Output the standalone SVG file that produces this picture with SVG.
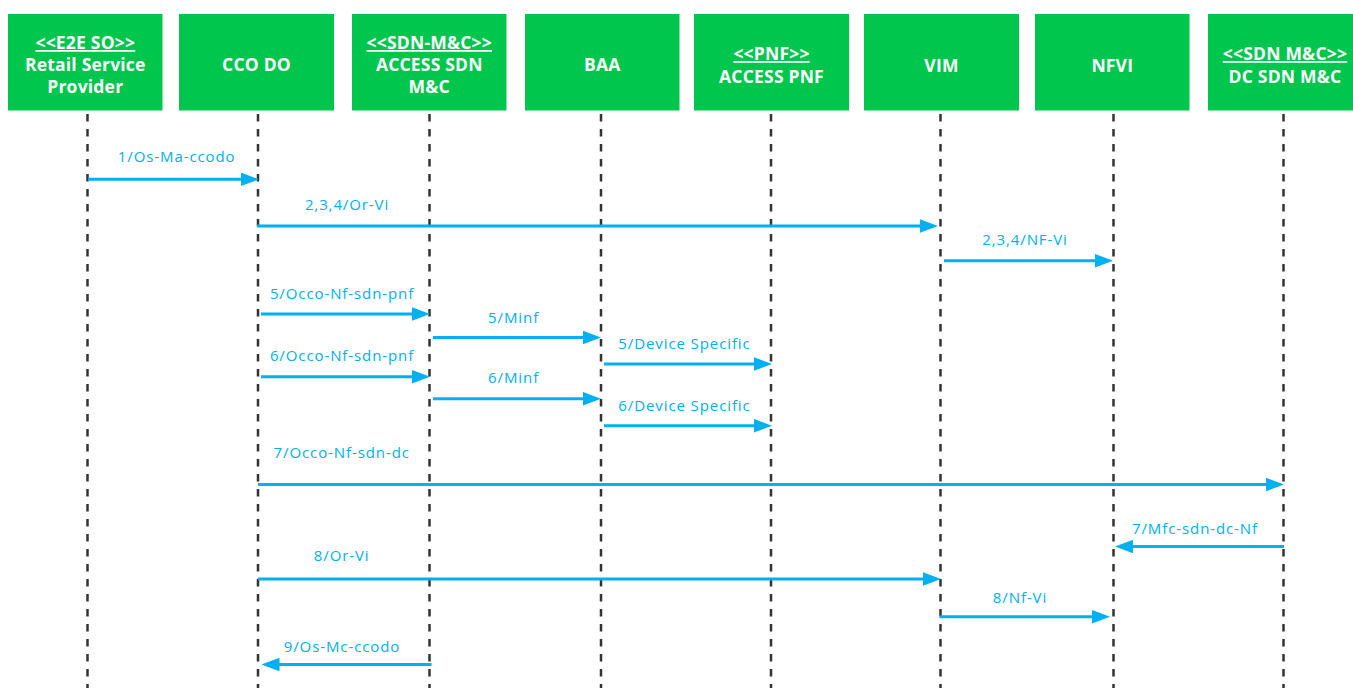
<svg xmlns="http://www.w3.org/2000/svg" width="1353" height="688" viewBox="0 0 1353 688">
<style>
.box{fill:#00C64D}
.ht{font-family:"Open Sans","Liberation Sans",sans-serif;font-weight:700;font-size:17.5px;fill:#fff;text-anchor:middle;letter-spacing:0.2px}
.st{text-decoration:underline}
.life{stroke:#333;stroke-width:2.5;stroke-dasharray:7.5 7.5;fill:none}
.msg{stroke:#00B0F0;stroke-width:3;fill:none;marker-end:url(#ah)}
.lbl{font-family:"Open Sans","Liberation Sans",sans-serif;font-size:15px;font-weight:500;fill:#00B0F0;text-anchor:middle;letter-spacing:0.9px}
</style>
<defs>
<marker id="ah" markerUnits="userSpaceOnUse" markerWidth="18" markerHeight="14" refX="8" refY="6.75" orient="auto">
<path d="M0,0 L18,6.75 L0,13.5 Z" fill="#00B0F0"/>
</marker>
</defs>
<rect width="1353" height="688" fill="#fff"/>
<g id="lifelines">
<line class="life" x1="87.5" y1="114" x2="87.5" y2="688"/>
<line class="life" x1="258" y1="114" x2="258" y2="688"/>
<line class="life" x1="429.5" y1="114" x2="429.5" y2="688"/>
<line class="life" x1="601" y1="114" x2="601" y2="688"/>
<line class="life" x1="771" y1="114" x2="771" y2="688"/>
<line class="life" x1="940.5" y1="114" x2="940.5" y2="688"/>
<line class="life" x1="1113.5" y1="114" x2="1113.5" y2="688"/>
<line class="life" x1="1283.5" y1="114" x2="1283.5" y2="688"/>
</g>
<g id="node-rsp">
<rect class="box" x="8" y="14" width="154.5" height="96.5"/>
<text class="ht" x="85.3" y="49"><tspan class="st">&lt;&lt;E2E SO&gt;&gt;</tspan></text>
<text class="ht" x="85.3" y="71">Retail Service</text>
<text class="ht" x="85.3" y="93.3">Provider</text>
</g>
<g id="node-ccodo">
<rect class="box" x="179" y="14" width="155" height="96.5"/>
<text class="ht" x="256.5" y="71">CCO DO</text>
</g>
<g id="node-accesssdn">
<rect class="box" x="352" y="14" width="154.5" height="96.5"/>
<text class="ht" x="429.3" y="49"><tspan class="st">&lt;&lt;SDN-M&amp;C&gt;&gt;</tspan></text>
<text class="ht" x="429.3" y="71">ACCESS SDN</text>
<text class="ht" x="429.3" y="93.3">M&amp;C</text>
</g>
<g id="node-baa">
<rect class="box" x="525" y="14" width="154.5" height="96.5"/>
<text class="ht" x="602.3" y="71">BAA</text>
</g>
<g id="node-accesspnf">
<rect class="box" x="694" y="14" width="155" height="96.5"/>
<text class="ht" x="771.5" y="60"><tspan class="st">&lt;&lt;PNF&gt;&gt;</tspan></text>
<text class="ht" x="771.5" y="82.5">ACCESS PNF</text>
</g>
<g id="node-vim">
<rect class="box" x="864" y="14" width="155" height="96.5"/>
<text class="ht" x="941.5" y="71.5">VIM</text>
</g>
<g id="node-nfvi">
<rect class="box" x="1035" y="14" width="154.5" height="96.5"/>
<text class="ht" x="1112.3" y="71.5">NFVI</text>
</g>
<g id="node-dcsdn">
<rect class="box" x="1208" y="14" width="154.5" height="96.5"/>
<text class="ht" x="1285" y="60"><tspan class="st">&lt;&lt;SDN M&amp;C&gt;&gt;</tspan></text>
<text class="ht" x="1285" y="82.5">DC SDN M&amp;C</text>
</g>
<g id="connectors">
<line class="msg" x1="88" y1="179.3" x2="249" y2="179.3"/>
<line class="msg" x1="257" y1="226" x2="928" y2="226"/>
<line class="msg" x1="944" y1="260.7" x2="1103" y2="260.7"/>
<line class="msg" x1="261" y1="314" x2="420" y2="314"/>
<line class="msg" x1="433" y1="337.5" x2="591" y2="337.5"/>
<line class="msg" x1="604" y1="364" x2="762" y2="364"/>
<line class="msg" x1="261" y1="376.7" x2="420" y2="376.7"/>
<line class="msg" x1="433" y1="398.7" x2="591" y2="398.7"/>
<line class="msg" x1="604" y1="425.7" x2="762" y2="425.7"/>
<line class="msg" x1="258" y1="484.5" x2="1274" y2="484.5"/>
<line class="msg" x1="1284" y1="546.5" x2="1125" y2="546.5"/>
<line class="msg" x1="258" y1="579" x2="931" y2="579"/>
<line class="msg" x1="939.5" y1="616.7" x2="1100" y2="616.7"/>
<line class="msg" x1="431.5" y1="664.5" x2="271.5" y2="664.5"/>
<text class="lbl" x="176.7" y="162.3">1/Os-Ma-ccodo</text>
<text class="lbl" x="347" y="210">2,3,4/Or-Vi</text>
<text class="lbl" x="1025" y="245">2,3,4/NF-Vi</text>
<text class="lbl" x="342" y="298.5">5/Occo-Nf-sdn-pnf</text>
<text class="lbl" x="513.6" y="322.7">5/Minf</text>
<text class="lbl" x="684.5" y="349">5/Device Specific</text>
<text class="lbl" x="342" y="360.7">6/Occo-Nf-sdn-pnf</text>
<text class="lbl" x="513.6" y="383.3">6/Minf</text>
<text class="lbl" x="684.5" y="410.7">6/Device Specific</text>
<text class="lbl" x="341.7" y="458.3">7/Occo-Nf-sdn-dc</text>
<text class="lbl" x="1195" y="534">7/Mfc-sdn-dc-Nf</text>
<text class="lbl" x="341.7" y="560.7">8/Or-Vi</text>
<text class="lbl" x="1020" y="603.3">8/Nf-Vi</text>
<text class="lbl" x="342" y="651.7">9/Os-Mc-ccodo</text>
</g>
</svg>
